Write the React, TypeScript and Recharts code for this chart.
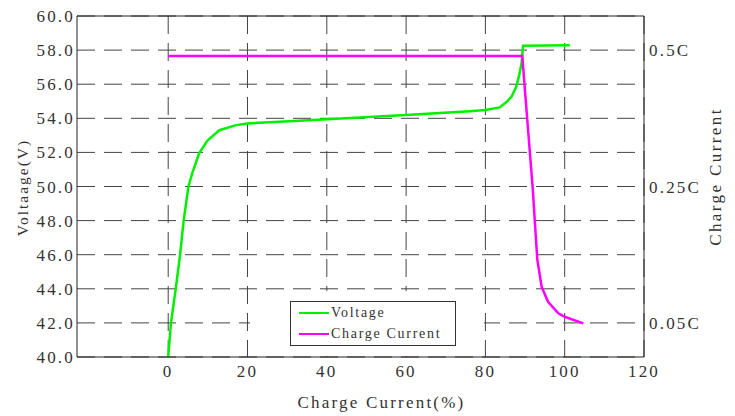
import { LineChart, Line, XAxis, YAxis, CartesianGrid, ReferenceLine, Legend } from 'recharts';

// charge state (%) vs battery voltage
const voltagePct = [0, 0.7, 1.9, 3.0, 3.9, 5.1, 6.1, 7.8, 9.9, 12.9, 17.1, 20, 33, 40, 60, 76, 80, 83.6, 85.3, 86.6, 87.7, 88.5, 89.1, 89.5, 101.3];
const voltageV = [40.0, 42.0, 44.0, 46.0, 48.0, 50.0, 50.8, 51.95, 52.7, 53.3, 53.6, 53.7, 53.86, 53.94, 54.19, 54.41, 54.49, 54.64, 54.95, 55.27, 55.8, 56.5, 57.2, 58.25, 58.28];

// charge current, placed on the right axis scale
const currentPct = [0, 89.3, 90.5, 91.9, 92.5, 93.1, 94.2, 95.8, 98.4, 100, 104.7];
const currentPos = [57.65, 57.65, 54.1, 50.0, 47.84, 45.7, 44.1, 43.24, 42.56, 42.36, 41.97];

const xTicks = [0, 20, 40, 60, 80, 100, 120];
const voltTicks = [40, 42, 44, 46, 48, 50, 52, 54, 56, 58, 60];
const currentTicks = [42, 50, 58];
const currentLabels = ['0.05C', '0.25C', '0.5C'];
const legendOrder = ['Voltage', 'Charge Current'];

const voltageData = voltagePct.map((p, i) => ({ pct: p, v: voltageV[i] }));
const currentData = currentPct.map((p, i) => ({ pct: p, c: currentPos[i] }));

const FONT = '"Liberation Serif", serif';
const TEXT = '#333';
const GREEN = '#00F000';
const MAGENTA = '#FF00FF';

const tickStyle = { fill: TEXT, fontSize: 17, fontFamily: FONT, letterSpacing: 2.2 };

const LegendBox = ({ payload }: any) => {
  const items = [...(payload || [])].sort(
    (a: any, b: any) => legendOrder.indexOf(a.value) - legendOrder.indexOf(b.value)
  );
  return (
    <div style={{ width: 234, height: 65, background: '#fff', position: 'relative' }}>
      <div
        style={{
          position: 'absolute',
          left: 40,
          top: 10,
          width: 166,
          height: 45,
          border: '1px solid #333',
          boxSizing: 'border-box',
          fontFamily: FONT,
          fontSize: 14,
          letterSpacing: 1.7,
          color: TEXT,
        }}
      >
        {items.map((item: any, i: number) => (
          <div
            key={item.value}
            style={{ position: 'absolute', left: 8, top: 1 + i * 21, height: 20, display: 'flex', alignItems: 'center', whiteSpace: 'nowrap' }}
          >
            <span style={{ display: 'inline-block', width: 30, height: 2.5, background: item.color, marginRight: 2 }} />
            <span>{item.value}</span>
          </div>
        ))}
      </div>
    </div>
  );
};

export default function App() {
  return (
    <div style={{ position: 'absolute', left: 0, top: 0, width: 735, height: 416, background: '#fff' }}>
      <LineChart width={735} height={416} margin={{ top: 16, right: 0, bottom: 0, left: 0 }}>
        <CartesianGrid
          yAxisId="v"
          stroke="#444"
          strokeDasharray="18 9"
          horizontalValues={voltTicks}
          verticalValues={xTicks}
        />
        <XAxis
          dataKey="pct"
          type="number"
          domain={[-23, 120]}
          ticks={xTicks}
          allowDataOverflow
          height={59}
          tickLine={false}
          tickSize={0}
          tickMargin={8}
          tick={tickStyle}
          axisLine={{ stroke: '#222' }}
          label={({ viewBox }: any) => (
            <text
              x={viewBox.x + viewBox.width / 2 + 21}
              y={viewBox.y + 45}
              textAnchor="middle"
              dominantBaseline="central"
              fill={TEXT}
              fontSize={17}
              letterSpacing={2.2}
              fontFamily={FONT}
            >
              Charge Current(%)
            </text>
          )}
        />
        <YAxis
          yAxisId="v"
          domain={[40, 60]}
          ticks={voltTicks}
          width={77}
          tickLine={false}
          tickSize={0}
          tickMargin={2}
          tick={tickStyle}
          tickFormatter={(v) => v.toFixed(1)}
          axisLine={{ stroke: '#222' }}
          label={({ viewBox }: any) => {
            const cx = viewBox.x + 22;
            const cy = viewBox.y + viewBox.height / 2 + 1;
            return (
              <text
                x={cx}
                y={cy}
                transform={`rotate(-90 ${cx} ${cy})`}
                textAnchor="middle"
                dominantBaseline="central"
                fill={TEXT}
                fontSize={15.5}
                letterSpacing={2}
                fontFamily={FONT}
              >
                Voltaage(V)
              </text>
            );
          }}
        />
        <YAxis
          yAxisId="c"
          orientation="right"
          domain={[40, 60]}
          ticks={currentTicks}
          width={91}
          tickLine={false}
          tickSize={0}
          tickMargin={5}
          tick={tickStyle}
          tickFormatter={(v) => currentLabels[currentTicks.indexOf(v)] ?? ''}
          axisLine={{ stroke: '#222' }}
          label={({ viewBox }: any) => {
            const cx = viewBox.x + 71;
            const cy = viewBox.y + viewBox.height / 2 - 10;
            return (
              <text
                x={cx}
                y={cy}
                transform={`rotate(-90 ${cx} ${cy})`}
                textAnchor="middle"
                dominantBaseline="central"
                fill={TEXT}
                fontSize={17}
                letterSpacing={2.4}
                fontFamily={FONT}
              >
                Charge Current
              </text>
            );
          }}
        />
        <ReferenceLine yAxisId="v" y={60} stroke="#222" />
        <Line
          yAxisId="v"
          data={voltageData}
          dataKey="v"
          name="Voltage"
          type="linear"
          stroke={GREEN}
          strokeWidth={2.5}
          dot={false}
          isAnimationActive={false}
        />
        <Line
          yAxisId="c"
          data={currentData}
          dataKey="c"
          name="Charge Current"
          type="linear"
          stroke={MAGENTA}
          strokeWidth={2.5}
          dot={false}
          isAnimationActive={false}
        />
        <Legend
          layout="vertical"
          verticalAlign="middle"
          align="center"
          content={<LegendBox />}
          wrapperStyle={{ position: 'absolute', left: 250, top: 291, width: 234, height: 65 }}
        />
      </LineChart>
    </div>
  );
}
